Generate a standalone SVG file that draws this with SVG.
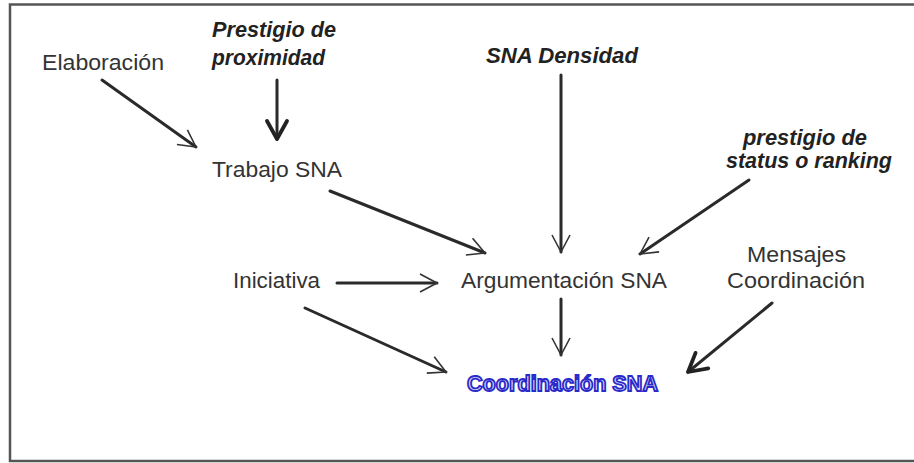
<svg xmlns="http://www.w3.org/2000/svg" width="914" height="463" viewBox="0 0 914 463">
  <style>
    .lbl { font-family: "Liberation Sans", Arial, sans-serif; font-size: 22px; fill: #333; }
    .em { font-family: "Liberation Sans", Arial, sans-serif; font-size: 21.5px; font-style: italic; font-weight: bold; fill: #222; }
    .hl { font-family: "Liberation Sans", Arial, sans-serif; font-size: 22px; font-weight: bold; fill: #dcdcff; stroke: #2a2ac8; stroke-width: 1.8; }
    .edge { stroke: #2a2a2a; stroke-width: 3; fill: none; stroke-linecap: round; }
  </style>
  <defs>
    <marker id="open" markerUnits="userSpaceOnUse" viewBox="-2 -12 22 24" refX="17" refY="0" markerWidth="22" markerHeight="24" orient="auto">
      <path d="M0,-9 L17,0 L0,9" fill="none" stroke="#333" stroke-width="1.6" stroke-linejoin="round"/>
    </marker>
    <marker id="bold" markerUnits="userSpaceOnUse" viewBox="-3 -14 24 28" refX="18" refY="0" markerWidth="24" markerHeight="28" orient="auto">
      <path d="M0,-10 L18,0 L0,10" fill="none" stroke="#222" stroke-width="3.8" stroke-linejoin="round" stroke-linecap="round"/>
    </marker>
  </defs>
  <rect x="0" y="0" width="914" height="463" fill="#fff"/>
  <rect id="frame" x="10" y="4.5" width="912" height="456.5" fill="none" stroke="#555" stroke-width="2.5"/>

  <g id="connectors">
    <line class="edge" x1="102" y1="80" x2="196" y2="147" marker-end="url(#open)"/>
    <line class="edge" x1="277" y1="80" x2="277" y2="139" marker-end="url(#bold)"/>
    <line class="edge" x1="561" y1="75" x2="561" y2="252" marker-end="url(#open)"/>
    <line class="edge" x1="330" y1="191" x2="485" y2="253" marker-end="url(#open)"/>
    <line class="edge" x1="749" y1="180" x2="640" y2="254" marker-end="url(#open)"/>
    <line class="edge" x1="337" y1="283" x2="437" y2="283" marker-end="url(#open)"/>
    <line class="edge" x1="305" y1="308" x2="446" y2="372" marker-end="url(#open)"/>
    <line class="edge" x1="561" y1="299" x2="561" y2="355" marker-end="url(#open)"/>
    <line class="edge" x1="772" y1="303" x2="688" y2="372" marker-end="url(#bold)"/>
  </g>

  <g id="elaboracion"><text class="lbl" x="42" y="70" textLength="122" lengthAdjust="spacingAndGlyphs">Elaboración</text></g>
  <g id="prestigio-proximidad">
    <text class="em" x="212" y="37" textLength="124" lengthAdjust="spacingAndGlyphs">Prestigio de</text>
    <text class="em" x="212" y="65" textLength="113" lengthAdjust="spacingAndGlyphs">proximidad</text>
  </g>
  <g id="trabajo"><text class="lbl" x="212" y="177" textLength="130" lengthAdjust="spacingAndGlyphs">Trabajo SNA</text></g>
  <g id="densidad"><text class="em" x="486" y="63" textLength="152" lengthAdjust="spacingAndGlyphs">SNA Densidad</text></g>
  <g id="prestigio-status">
    <text class="em" x="743" y="145" textLength="124" lengthAdjust="spacingAndGlyphs">prestigio de</text>
    <text class="em" x="726" y="168" textLength="166" lengthAdjust="spacingAndGlyphs">status o ranking</text>
  </g>
  <g id="iniciativa"><text class="lbl" x="233" y="288" textLength="87" lengthAdjust="spacingAndGlyphs">Iniciativa</text></g>
  <g id="argumentacion"><text class="lbl" x="461" y="288" textLength="206" lengthAdjust="spacingAndGlyphs">Argumentación SNA</text></g>
  <g id="mensajes">
    <text class="lbl" x="747" y="262" textLength="99" lengthAdjust="spacingAndGlyphs">Mensajes</text>
    <text class="lbl" x="727" y="288" textLength="138" lengthAdjust="spacingAndGlyphs">Coordinación</text>
  </g>
  <g id="coordinacion"><text class="hl" x="467" y="391" textLength="191" lengthAdjust="spacingAndGlyphs">Coordinación SNA</text></g>
</svg>
